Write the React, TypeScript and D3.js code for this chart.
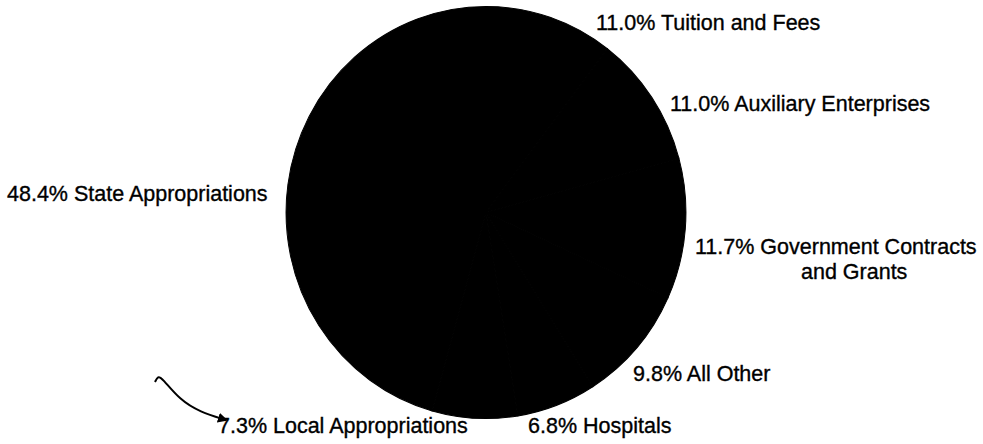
import React from "react";
import * as d3 from "d3";

const categories = [
  "Tuition and Fees",
  "Auxiliary Enterprises",
  "Government Contracts and Grants",
  "All Other",
  "Hospitals",
  "Local Appropriations",
  "State Appropriations",
];
const values = [11.0, 11.0, 11.7, 9.8, 6.8, 7.3, 48.4];
const labelLines = [
  ["11.0% Tuition and Fees"],
  ["11.0% Auxiliary Enterprises"],
  ["11.7% Government Contracts", "and Grants"],
  ["9.8% All Other"],
  ["6.8% Hospitals"],
  ["7.3% Local Appropriations"],
  ["48.4% State Appropriations"],
];

// label placement (layout only)
const labelPos: { x: number; y: number }[] = [
  { x: 596, y: 30 },
  { x: 670, y: 111 },
  { x: 695, y: 254 },
  { x: 633, y: 381 },
  { x: 528, y: 433 },
  { x: 218, y: 433 },
  { x: 7, y: 201 },
];

export default function App() {
  const W = 983, H = 444;
  const cx = 486, cy = 212.5, r = 203;
  const pie = d3.pie<number>().sort(null).value((d) => d);
  const arcs = pie(values);
  const arc = d3.arc<d3.PieArcDatum<number>>().innerRadius(0).outerRadius(r);
  const font = "'Liberation Sans', Arial, Helvetica, sans-serif";
  return (
    <svg width={W} height={H} style={{ position: "absolute", left: 0, top: 0, background: "#fff" }}>
      <rect x={0} y={0} width={W} height={H} fill="#fff" />
      <g transform={`translate(${cx},${cy}) scale(0.985,1.015)`}>
        {arcs.map((a, i) => (
          <path key={categories[i]} d={arc(a) || ""} fill="#000" stroke="#000" strokeWidth={1} />
        ))}
      </g>
      {labelPos.map((l, i) => (
        <text
          key={i}
          x={l.x}
          y={l.y}
          fontFamily={font}
          fontSize={21.5}
          fill="#000"
          stroke="#000"
          strokeWidth={0.35}
        >
          {labelLines[i].map((t, j) => (
            <tspan key={j} x={j === 0 ? l.x : l.x + 106} dy={j === 0 ? 0 : 25}>
              {t}
            </tspan>
          ))}
        </text>
      ))}
      <defs>
        <marker id="ah" viewBox="0 0 10 10" refX="8" refY="5" markerWidth="5" markerHeight="5" orient="auto">
          <path d="M0,0 L10,5 L0,10 z" fill="#000" />
        </marker>
      </defs>
      <path
        d={d3.line().curve(d3.curveBasis)([
          [155, 382],
          [158, 376],
          [162, 378],
          [180, 400],
          [200, 412],
          [226, 420],
        ]) || ""}
        fill="none"
        stroke="#000"
        strokeWidth={2}
        markerEnd="url(#ah)"
      />
    </svg>
  );
}
